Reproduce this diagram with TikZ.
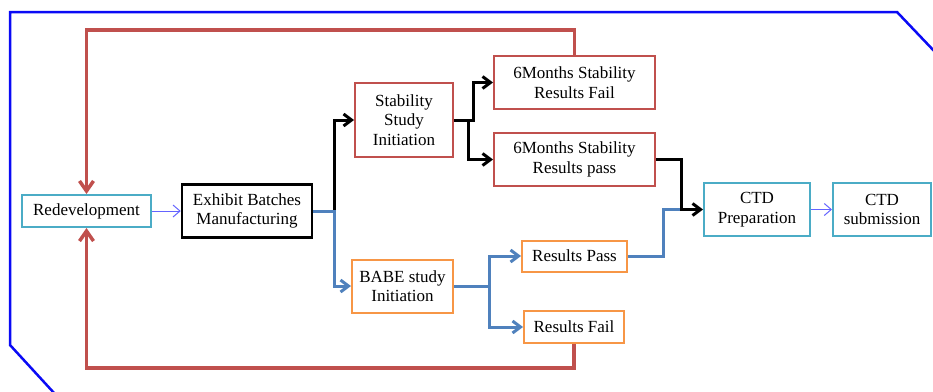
\documentclass[tikz,border=0pt]{standalone}
\usepackage{fontspec}
\setmainfont{Liberation Serif}
\usetikzlibrary{arrows.meta,calc}
\definecolor{redc}{HTML}{C0504D}
\definecolor{bluec}{HTML}{4F81BD}
\definecolor{cyanc}{HTML}{4BACC6}
\definecolor{orangec}{HTML}{F79646}
\definecolor{thinc}{HTML}{6464FF}
\definecolor{framec}{HTML}{0A0AF5}
\tikzset{
  box/.style={draw, fill=white, line width=2pt, inner sep=0pt, align=center,
    font=\fontsize{17}{19.5}\selectfont},
  cyanbox/.style={box, draw=cyanc},
  redbox/.style={box, draw=redc},
  orangebox/.style={box, draw=orangec},
  blackbox/.style={box, draw=black, line width=2.5pt},
  flow/.style={line width=3pt, -{Straight Barb[length=8pt,width=12pt]}},
  bigflow/.style={line width=3.5pt, -{Straight Barb[length=10pt,width=14pt]}},
  plain/.style={line width=3pt},
  thin/.style={thinc, line width=1pt, -{Straight Barb[length=7pt,width=12pt]}}
}
\begin{document}
\begin{tikzpicture}[x=1pt,y=-1pt]
\useasboundingbox (0,0) rectangle (933,391);
% outer frame
\draw[framec, line width=2.5pt] (55,394) -- (10,345) -- (10,12) -- (897,12) -- (936,53);

% boxes
\node[cyanbox, minimum width=129pt, minimum height=32pt] (redev) at (86.5,211) {Redevelopment};
\node[blackbox, minimum width=130pt, minimum height=53pt] (exh) at (247,211) {Exhibit Batches\\Manufacturing};
\node[redbox, minimum width=98pt, minimum height=74pt] (stab) at (404,120) {Stability\\Study\\Initiation};
\node[redbox, minimum width=161pt, minimum height=53pt] (fail6) at (574.5,82.5) {6Months Stability\\Results Fail};
\node[redbox, minimum width=161pt, minimum height=53pt] (pass6) at (574.5,159.5) {6Months Stability\\Results pass};
\node[orangebox, minimum width=101pt, minimum height=53pt] (babe) at (402.5,286) {BABE study\\Initiation};
\node[orangebox, minimum width=105pt, minimum height=31pt] (rpass) at (574.5,256) {Results Pass};
\node[orangebox, minimum width=100pt, minimum height=32pt] (rfail) at (574,327) {Results Fail};
\node[cyanbox, minimum width=106pt, minimum height=53pt] (ctdp) at (757,209.5) {CTD\\Preparation};
\node[cyanbox, minimum width=98pt, minimum height=53pt] (ctds) at (882,209.5) {CTD\\submission};

% junction where the two accepted branches meet
\path (pass6.east) ++(25,0) coordinate (j0);
\coordinate (join) at (j0 |- ctdp.west);

% feedback loops back to redevelopment
\draw[redc, bigflow] (fail6.north) -- (fail6.north |- 0,30) -| (redev.north);
\draw[redc, bigflow] (rfail.south) -- (rfail.south |- 0,368) -| (redev.south);

% main flow
\draw[thin] (redev.east) -- (exh.west);
\draw[black, flow] (exh.east) -- ++(21,0) |- (stab.west);
\draw[bluec, flow] (exh.east) -- ++(21,0) |- (babe.west);
\draw[black, flow] (stab.east) -- ++(19,0) |- (fail6.west);
\draw[black, flow] (stab.east) -- ++(14,0) |- (pass6.west);
\draw[bluec, flow] (babe.east) -- ++(35,0) |- (rpass.west);
\draw[bluec, flow] (babe.east) -- ++(35,0) |- (rfail.west);
\draw[bluec, plain] (rpass.east) -- ++(35,0) |- (join);
\draw[black, flow] (pass6.east) -| (join) -- (ctdp.west);
\draw[thin] (ctdp.east) -- (ctds.west);
\end{tikzpicture}
\end{document}
